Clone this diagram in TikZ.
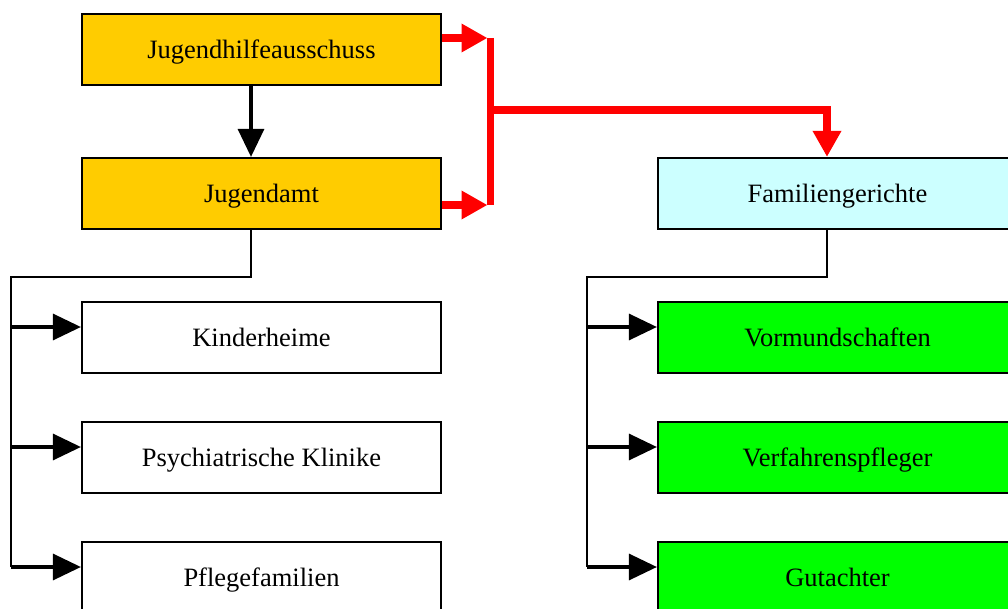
\documentclass[tikz,border=0pt]{standalone}
\usepackage{fontspec}
\setmainfont{Liberation Serif}
\usetikzlibrary{arrows.meta}
\definecolor{orgfill}{HTML}{FFCC00}
\definecolor{cyanfill}{HTML}{CCFFFF}
\definecolor{greenfill}{HTML}{00FF00}
\definecolor{redline}{HTML}{FF0000}
\tikzset{
  box/.style={draw=black, line width=2.2pt, minimum width=359pt, minimum height=71pt,
    inner sep=0pt, text height=18pt, text depth=0pt,
    font=\fontsize{26.5}{30}\selectfont},
  orgbox/.style={box, fill=orgfill},
  cyanbox/.style={box, fill=cyanfill},
  greenbox/.style={box, fill=greenfill},
  whitebox/.style={box, fill=white},
  trunk/.style={draw=black, line width=2pt},
  barrow/.style={draw=black, line width=3.2pt, -{Triangle[length=28pt,width=26pt]}},
  rline/.style={draw=redline, line width=7.5pt},
  rarrow/.style={draw=redline, line width=8pt, -{Triangle[length=26pt,width=27pt]}},
}
\begin{document}
\begin{tikzpicture}[x=1pt,y=-1pt]
\useasboundingbox (0,0) rectangle (1008,609);
\clip (0,0) rectangle (1008,609);
\fill[white] (0,0) rectangle (1008,609);
% left column
\node[orgbox] (jha) at (261.5,49.5) {Jugendhilfeausschuss};
\node[orgbox] (ja) at (261.5,193.5) {Jugendamt};
\node[whitebox] (kh) at (261.5,337.5) {Kinderheime};
\node[whitebox] (pk) at (261.5,457.5) {Psychiatrische Klinike};
\node[whitebox] (pf) at (261.5,577.5) {Pflegefamilien};
% right column
\node[cyanbox] (fg) at (837.5,193.5) {Familiengerichte};
\node[greenbox] (vm) at (837.5,337.5) {Vormundschaften};
\node[greenbox] (vp) at (837.5,457.5) {Verfahrenspfleger};
\node[greenbox] (gu) at (837.5,577.5) {Gutachter};
% junction coordinates
\coordinate (rt) at (490.5,38);
\coordinate (rb) at (490.5,205);
\coordinate (rm) at (490.5,110);
\coordinate (lt) at (11,277);
\coordinate (rtt) at (587,277);
% black arrow
\draw[barrow] ([xshift=-10.5pt]jha.south) -- ([xshift=-10.5pt]ja.north);
% red connectors
\draw[rline] (rt) -- (rb);
\draw[rarrow] ([yshift=11.5pt]jha.east) -- ([xshift=-3pt]rt);
\draw[rarrow] ([yshift=-11.5pt]ja.east) -- ([xshift=-3pt]rb);
\draw[rline] (rm) -| ([xshift=-10.5pt,yshift=28pt]fg.north);
\draw[rarrow] ([xshift=-10.5pt,yshift=30pt]fg.north) -- ([xshift=-10.5pt]fg.north);
% left tree
\draw[trunk] ([xshift=-10.5pt]ja.south) |- (lt) -- ([yshift=10.5pt]pf.west -| lt);
\draw[barrow] ([yshift=10.5pt]kh.west -| lt) -- ([yshift=10.5pt]kh.west);
\draw[barrow] ([yshift=10.5pt]pk.west -| lt) -- ([yshift=10.5pt]pk.west);
\draw[barrow] ([yshift=10.5pt]pf.west -| lt) -- ([yshift=10.5pt]pf.west);
% right tree
\draw[trunk] ([xshift=-10.5pt]fg.south) |- (rtt) -- ([yshift=10.5pt]gu.west -| rtt);
\draw[barrow] ([yshift=10.5pt]vm.west -| rtt) -- ([yshift=10.5pt]vm.west);
\draw[barrow] ([yshift=10.5pt]vp.west -| rtt) -- ([yshift=10.5pt]vp.west);
\draw[barrow] ([yshift=10.5pt]gu.west -| rtt) -- ([yshift=10.5pt]gu.west);
\end{tikzpicture}
\end{document}
